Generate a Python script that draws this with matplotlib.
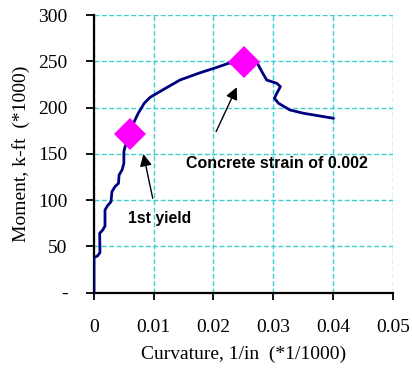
import matplotlib
matplotlib.use("Agg")
import matplotlib.pyplot as plt
from matplotlib.ticker import FixedLocator

# Moment-curvature response
curvature = [0.0, 0.0, 0.00056, 0.0010, 0.00095, 0.00145, 0.00184, 0.00184, 0.00223,
             0.00285, 0.0030, 0.0035, 0.0041, 0.0042, 0.0047, 0.0050, 0.0050, 0.0052,
             0.0060, 0.0066, 0.0074, 0.0084, 0.0094, 0.0113, 0.0144, 0.0178, 0.0206,
             0.0225, 0.0251, 0.0273, 0.0281, 0.0289, 0.0306, 0.0312, 0.0306, 0.0302,
             0.0309, 0.0328, 0.0351, 0.0401]
moment = [0, 38, 39.6, 43.2, 64.2, 67.7, 72, 89.3, 93.7,
          98.3, 109.1, 114.5, 118.2, 127.2, 132.6, 139.8, 152.3, 157.7,
          171, 183, 193.8, 204.6, 211.1, 218.3, 229.8, 237.7, 243.5,
          247.8, 249.5, 248.5, 238.8, 229.8, 226.2, 222.6, 215.4, 210,
          204.6, 197.4, 193.8, 188.4]

# Key points: first yield and concrete strain of 0.002
key_curv = [0.0060, 0.02515]
key_moment = [171.4, 249.2]

x_ticks = [0, 0.01, 0.02, 0.03, 0.04, 0.05]
x_tick_labels = ["0", "0.01", "0.02", "0.03", "0.04", "0.05"]
y_ticks = [0, 50, 100, 150, 200, 250, 300]
y_tick_labels = ["-", "50", "100", "150", "200", "250", "300"]

serif = "Liberation Serif"
sans = "Liberation Sans"

fig = plt.figure(figsize=(4.12, 3.71), dpi=100)
ax = fig.add_axes([94 / 412, 1 - 292.7 / 371, (392.7 - 94) / 412, (292.7 - 15) / 371])

ax.plot(curvature, moment, color="#000080", lw=2.0, solid_joinstyle="round",
        solid_capstyle="round", zorder=3)
ax.plot(key_curv, key_moment, linestyle="none", marker="D", ms=16.5,
        color="#FF00FF", markeredgewidth=0, zorder=4)

ax.set_xlim(0, 0.05)
ax.set_ylim(0, 300)
ax.xaxis.set_major_locator(FixedLocator(x_ticks))
ax.yaxis.set_major_locator(FixedLocator(y_ticks))
ax.set_xticklabels(x_tick_labels, family=serif, fontsize=14)
ax.set_yticklabels(y_tick_labels, family=serif, fontsize=14)
ax.tick_params(axis="y", direction="out", length=6, width=1.3, pad=13)
ax.tick_params(axis="x", direction="out", length=5, width=1.3, pad=14)

ax.grid(True, color="#3CCFCF", linestyle=(0, (3.5, 1.8)), linewidth=1.0, zorder=1)
ax.set_axisbelow(True)
for side in ("top", "right"):
    ax.spines[side].set_visible(False)
for side in ("left", "bottom"):
    ax.spines[side].set_linewidth(1.6)
    ax.spines[side].set_color("black")

ax.set_xlabel("Curvature, 1/in  (*1/1000)", family=serif, fontsize=14, labelpad=7)
ax.set_ylabel("Moment, k-ft  (*1000)", family=serif, fontsize=14, labelpad=6)

arrow = dict(arrowstyle="-|>", color="black", lw=1.0, mutation_scale=18,
             shrinkA=0, shrinkB=0)
ax.annotate("", xy=(0.00826, 149.8), xytext=(0.00983, 102), arrowprops=arrow)
ax.annotate("", xy=(0.0239, 221.9), xytext=(0.02044, 174), arrowprops=arrow)

ax.text(0.00575, 80, "1st yield", family=sans, fontweight="bold", fontsize=11.3,
        ha="left", va="center")
ax.text(0.0154, 139.4, "Concrete strain of 0.002", family=sans, fontweight="bold",
        fontsize=11.5, ha="left", va="center")

fig.savefig("out.png", dpi=100)
